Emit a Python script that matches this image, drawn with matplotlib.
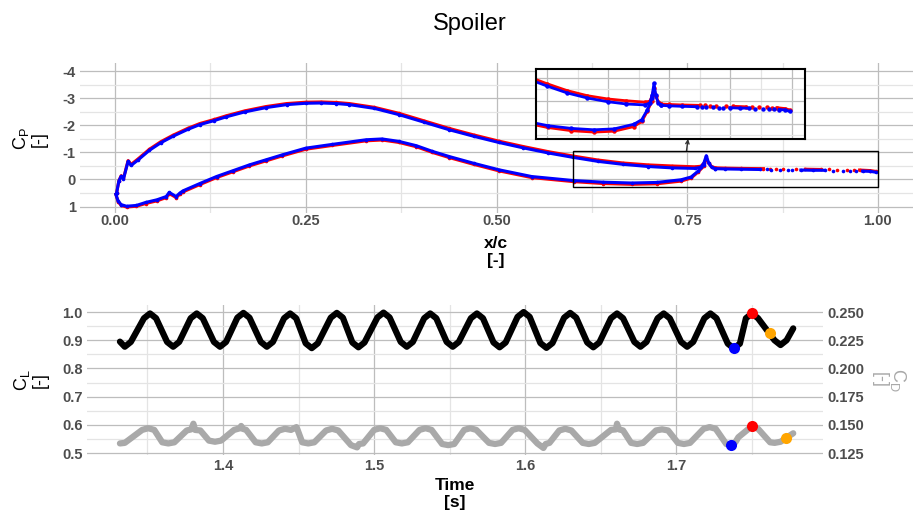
import numpy as np
import matplotlib
matplotlib.use("Agg")
import matplotlib.pyplot as plt
from matplotlib.patches import Rectangle
from matplotlib.ticker import MultipleLocator, FormatStrFormatter

plt.rcParams['font.family'] = 'Liberation Sans'
plt.rcParams['mathtext.fontset'] = 'custom'
plt.rcParams['mathtext.rm'] = 'Liberation Sans'

nan = np.nan

# --- Cp distribution (two instants: red and blue) ---
# suction side, leading edge -> spike near x/c = 0.775
x_up = [0.002, 0.005, 0.008, 0.011, 0.017, 0.021, 0.030, 0.045, 0.060, 0.076,
        0.095, 0.111, 0.130, 0.146, 0.170, 0.198, 0.225, 0.250, 0.270, 0.290,
        0.307, 0.340, 0.372, 0.405, 0.438, 0.470, 0.503, 0.535, 0.568, 0.600,
        0.633, 0.666, 0.699, 0.730, 0.760, 0.768, 0.772, 0.775, 0.778, 0.782, 0.787]
cp_up_blue = [0.50, 0.05, -0.12, -0.02, -0.67, -0.52, -0.72, -1.08, -1.36, -1.60,
              -1.85, -2.03, -2.18, -2.32, -2.50, -2.66, -2.77, -2.82, -2.83, -2.81,
              -2.77, -2.63, -2.40, -2.12, -1.84, -1.60, -1.37, -1.17, -0.98, -0.82,
              -0.67, -0.56, -0.48, -0.43, -0.41, -0.45, -0.62, -0.88, -0.62, -0.45, -0.40]
cp_up_red = [0.50, 0.04, -0.14, -0.04, -0.70, -0.56, -0.76, -1.12, -1.40, -1.64,
             -1.89, -2.07, -2.22, -2.36, -2.54, -2.70, -2.81, -2.86, -2.87, -2.85,
             -2.81, -2.67, -2.45, -2.17, -1.89, -1.65, -1.42, -1.22, -1.03, -0.87,
             -0.72, -0.61, -0.54, -0.50, -0.47, -0.49, -0.60, -0.78, -0.60, -0.48, -0.43]

# pressure side
x_lo = [0.001, 0.004, 0.008, 0.015, 0.028, 0.040, 0.055, 0.067, 0.071, 0.080,
        0.085, 0.089, 0.111, 0.133, 0.155, 0.176, 0.198, 0.219, 0.250, 0.285,
        0.329, 0.350, 0.372, 0.395, 0.416, 0.438, 0.470, 0.503, 0.546, 0.601,
        0.640, 0.677, 0.710, 0.742, 0.755, 0.764, 0.772]
cp_lo_blue = [0.55, 0.80, 0.93, 0.99, 0.96, 0.85, 0.75, 0.63, 0.48, 0.63,
              0.50, 0.42, 0.15, -0.11, -0.33, -0.54, -0.73, -0.91, -1.16, -1.30,
              -1.47, -1.50, -1.41, -1.25, -1.04, -0.85, -0.60, -0.36, -0.11, 0.04,
              0.10, 0.13, 0.11, 0.01, -0.09, -0.30, -0.55]
cp_lo_red = [0.55, 0.82, 0.96, 1.02, 0.99, 0.89, 0.79, 0.67, 0.52, 0.67,
             0.54, 0.46, 0.19, -0.07, -0.29, -0.50, -0.69, -0.87, -1.12, -1.26,
             -1.43, -1.46, -1.37, -1.21, -1.00, -0.81, -0.56, -0.32, -0.07, 0.08,
             0.15, 0.18, 0.16, 0.06, -0.05, -0.27, -0.50]

# after the spike, sparse taps up to the trailing edge (nan = gap)
x_tr_blue = [0.787, 0.800, 0.820, 0.845, nan, 0.854, nan, 0.860, nan, 0.871,
             nan, 0.882, nan, 0.888, nan, 0.899, 0.915, 0.930, nan, 0.941,
             nan, 0.954, nan, 0.963, nan, 0.971, nan, 0.980, 0.990, 0.997]
cp_tr_blue = [-0.40, -0.39, -0.38, -0.37, nan, -0.37, nan, -0.36, nan, -0.36,
              nan, -0.35, nan, -0.35, nan, -0.35, -0.34, -0.34, nan, -0.33,
              nan, -0.33, nan, -0.32, nan, -0.32, nan, -0.31, -0.30, -0.27]
x_tr_red = [0.787, 0.800, 0.820, 0.850, nan, 0.858, nan, 0.866, nan, 0.876,
            nan, 0.893, nan, 0.905, 0.925, nan, 0.936, nan, 0.947, nan,
            0.960, nan, 0.968, nan, 0.976, 0.990, 0.997]
cp_tr_red = [-0.43, -0.42, -0.41, -0.40, nan, -0.40, nan, -0.39, nan, -0.39,
             nan, -0.38, nan, -0.38, -0.37, nan, -0.37, nan, -0.36, nan,
             -0.36, nan, -0.35, nan, -0.35, -0.33, -0.30]

# --- CL / CD time history (extrema and shoulders) ---
t_cl = [1.3318, 1.3350, 1.3390,
        1.3477, 1.3517, 1.3557, 1.3630, 1.3670, 1.3710,
        1.3786, 1.3826, 1.3866, 1.3940, 1.3980, 1.4020,
        1.4095, 1.4135, 1.4175, 1.4250, 1.4290, 1.4330,
        1.4404, 1.4444, 1.4484, 1.4547, 1.4587, 1.4627,
        1.4713, 1.4753, 1.4793, 1.4856, 1.4896, 1.4936,
        1.5022, 1.5062, 1.5102, 1.5176, 1.5216, 1.5256,
        1.5331, 1.5371, 1.5411, 1.5480, 1.5520, 1.5560,
        1.5640, 1.5680, 1.5720, 1.5790, 1.5830, 1.5870,
        1.5949, 1.5989, 1.6029, 1.6100, 1.6140, 1.6180,
        1.6257, 1.6297, 1.6337, 1.6410, 1.6450, 1.6490,
        1.6567, 1.6607, 1.6647, 1.6722, 1.6762, 1.6802,
        1.6876, 1.6916, 1.6956, 1.7031, 1.7071, 1.7111,
        1.7185, 1.7225, 1.7265, 1.7340, 1.7380, 1.7420,
        1.7460, 1.7500, 1.7540, 1.7649, 1.7689, 1.7729,
        1.7773]
cl = [0.895, 0.877, 0.894,
      0.978, 0.995, 0.978, 0.894, 0.877, 0.894,
      0.978, 0.995, 0.978, 0.894, 0.877, 0.894,
      0.980, 0.997, 0.980, 0.894, 0.877, 0.894,
      0.978, 0.995, 0.978, 0.889, 0.872, 0.889,
      0.980, 0.997, 0.980, 0.892, 0.875, 0.892,
      0.981, 0.998, 0.981, 0.894, 0.877, 0.894,
      0.978, 0.995, 0.978, 0.894, 0.877, 0.894,
      0.978, 0.995, 0.978, 0.892, 0.875, 0.892,
      0.983, 1.000, 0.983, 0.890, 0.873, 0.890,
      0.980, 0.997, 0.980, 0.892, 0.875, 0.892,
      0.978, 0.995, 0.978, 0.894, 0.877, 0.894,
      0.978, 0.995, 0.978, 0.894, 0.877, 0.894,
      0.978, 0.995, 0.978, 0.888, 0.871, 0.888,
      0.978, 0.995, 0.978, 0.900, 0.883, 0.900,
      0.942]

t_cd = [1.3318, 1.3350,
        1.3465, 1.3505, 1.3545, 1.3598, 1.3638, 1.3678,
        1.3760, 1.3790, 1.3804, 1.3815, 1.3850, 1.3907, 1.3947, 1.3987,
        1.4073, 1.4113, 1.4120, 1.4130, 1.4153, 1.4216, 1.4256, 1.4296,
        1.4370, 1.4410, 1.4450, 1.4486, 1.4495, 1.4524, 1.4564, 1.4604,
        1.4682, 1.4722, 1.4762, 1.4847, 1.4887, 1.4900, 1.4927,
        1.5000, 1.5040, 1.5080, 1.5143, 1.5183, 1.5223,
        1.5300, 1.5340, 1.5380, 1.5450, 1.5490, 1.5530,
        1.5596, 1.5636, 1.5676, 1.5760, 1.5800, 1.5840,
        1.5916, 1.5956, 1.5996, 1.6080, 1.6120, 1.6135, 1.6160,
        1.6225, 1.6265, 1.6305, 1.6380, 1.6420, 1.6460,
        1.6567, 1.6600, 1.6607, 1.6620, 1.6647, 1.6700, 1.6740, 1.6780,
        1.6865, 1.6905, 1.6945, 1.7010, 1.7050, 1.7090,
        1.7180, 1.7220, 1.7260, 1.7330, 1.7358, 1.7390, 1.7410, 1.7460,
        1.7500, 1.7540, 1.7620, 1.7650, 1.7690, 1.7727, 1.7773]
cd = [0.1335, 0.1340,
      0.1455, 0.1470, 0.1455, 0.1345, 0.1335, 0.1345,
      0.1450, 0.1460, 0.1510, 0.1455, 0.1450, 0.1360, 0.1350, 0.1360,
      0.1455, 0.1470, 0.1490, 0.1465, 0.1455, 0.1345, 0.1335, 0.1345,
      0.1450, 0.1465, 0.1455, 0.1480, 0.1450, 0.1345, 0.1335, 0.1345,
      0.1450, 0.1465, 0.1450, 0.1320, 0.1300, 0.1330, 0.1335,
      0.1455, 0.1470, 0.1455, 0.1345, 0.1335, 0.1345,
      0.1455, 0.1470, 0.1455, 0.1330, 0.1320, 0.1330,
      0.1455, 0.1470, 0.1455, 0.1340, 0.1330, 0.1340,
      0.1455, 0.1470, 0.1455, 0.1335, 0.1295, 0.1330, 0.1340,
      0.1450, 0.1465, 0.1450, 0.1340, 0.1330, 0.1340,
      0.1455, 0.1460, 0.1510, 0.1460, 0.1450, 0.1340, 0.1330, 0.1340,
      0.1450, 0.1460, 0.1450, 0.1340, 0.1330, 0.1340,
      0.1465, 0.1480, 0.1465, 0.1330, 0.1320, 0.1345, 0.1390, 0.1445,
      0.1490, 0.1465, 0.1345, 0.1340, 0.1350, 0.1385, 0.1425]

# instants marked on the curves
mark_colors = ['blue', 'red', 'orange']
t_mark_cl = [1.7380, 1.7500, 1.7618]
cl_mark = [0.871, 0.995, 0.924]
t_mark_cd = [1.7358, 1.7500, 1.7727]
cd_mark = [0.132, 0.149, 0.1385]

W, H = 913, 519
fig = plt.figure(figsize=(W / 100, H / 100), dpi=100)

major_c = '#bdbdbd'
minor_c = '#e4e4e4'
tick_c = '#4d4d4d'


def style(ax):
    for s in ax.spines.values():
        s.set_visible(False)
    ax.tick_params(which='both', length=0, labelsize=10.5, labelcolor=tick_c, pad=3)
    ax.grid(True, which='major', color=major_c, lw=0.9)
    ax.grid(True, which='minor', color=minor_c, lw=0.9)
    ax.set_axisbelow(True)


def draw_cp(ax, ms, lw):
    for xs, ys, col in [(x_up, cp_up_red, 'red'), (x_lo, cp_lo_red, 'red'),
                        (x_tr_red, cp_tr_red, 'red'),
                        (x_up, cp_up_blue, 'blue'), (x_lo, cp_lo_blue, 'blue'),
                        (x_tr_blue, cp_tr_blue, 'blue')]:
        ax.plot(xs, ys, '-o', color=col, ms=ms, lw=lw, mew=0)


# top: Cp
ax1 = fig.add_axes([80 / W, 1 - 213 / H, 833 / W, 150 / H])
style(ax1)
ax1.tick_params(axis='x', pad=1)
draw_cp(ax1, 2.6, 2.2)
ax1.set_xlim(-0.046, 1.046)
ax1.set_ylim(1.24, -4.31)
ax1.xaxis.set_major_locator(MultipleLocator(0.25))
ax1.xaxis.set_minor_locator(MultipleLocator(0.125))
ax1.yaxis.set_major_locator(MultipleLocator(1))
ax1.yaxis.set_minor_locator(MultipleLocator(0.5))
ax1.xaxis.set_major_formatter(FormatStrFormatter('%.2f'))
ax1.yaxis.set_major_formatter(FormatStrFormatter('%d'))
for lbl in ax1.get_xticklabels() + ax1.get_yticklabels():
    lbl.set_fontweight('bold')

# zoom box + arrow to inset
ax1.add_patch(Rectangle((0.6, -1.04), 0.4, 1.30, fill=False, ec='black', lw=1, zorder=5))
ax1.annotate('', xy=(688 / W, 1 - 139 / H), xycoords='figure fraction',
             xytext=(0.749, -1.04), textcoords='data',
             arrowprops=dict(arrowstyle='->', color='#333333', lw=1,
                             mutation_scale=6, shrinkA=0, shrinkB=0))

# inset
axin = fig.add_axes([536 / W, 1 - 139 / H, 269 / W, 70 / H])
axin.set_facecolor('white')
axin.grid(True, which='major', color=major_c, lw=0.9)
axin.grid(True, which='minor', color=minor_c, lw=0.9)
axin.set_axisbelow(True)
draw_cp(axin, 3.2, 2.0)
axin.set_xlim(0.582, 1.022)
axin.set_ylim(0.33, -1.19)
axin.xaxis.set_major_locator(MultipleLocator(0.1))
axin.xaxis.set_minor_locator(MultipleLocator(0.05))
axin.yaxis.set_major_locator(MultipleLocator(0.5))
axin.yaxis.set_minor_locator(MultipleLocator(0.25))
axin.tick_params(which='both', length=0, labelbottom=False, labelleft=False)
for s in axin.spines.values():
    s.set_color('black')
    s.set_linewidth(1.5)

# bottom: CL and CD
ax2 = fig.add_axes([87 / W, 1 - 455 / H, 736 / W, 150 / H])
style(ax2)
ax2.plot(t_cl, cl, color='black', lw=4.5, solid_joinstyle='round', solid_capstyle='round')
ax2.set_xlim(1.31, 1.797)
ax2.set_ylim(0.493, 1.025)
ax2.xaxis.set_major_locator(MultipleLocator(0.1))
ax2.xaxis.set_minor_locator(MultipleLocator(0.05))
ax2.yaxis.set_major_locator(MultipleLocator(0.1))
ax2.yaxis.set_minor_locator(MultipleLocator(0.05))
ax2.xaxis.set_major_formatter(FormatStrFormatter('%.1f'))
ax2.yaxis.set_major_formatter(FormatStrFormatter('%.1f'))
for lbl in ax2.get_xticklabels() + ax2.get_yticklabels():
    lbl.set_fontweight('bold')

ax2r = ax2.twinx()
for s in ax2r.spines.values():
    s.set_visible(False)
ax2r.plot(t_cd, cd, color='darkgray', lw=4.5, solid_joinstyle='round', solid_capstyle='round')
ax2r.set_ylim(0.493 / 4, 1.025 / 4)
ax2r.yaxis.set_major_locator(MultipleLocator(0.025))
ax2r.yaxis.set_major_formatter(FormatStrFormatter('%.3f'))
ax2r.tick_params(length=0, labelsize=10.5, labelcolor=tick_c, pad=3)
for lbl in ax2r.get_yticklabels():
    lbl.set_fontweight('bold')

for t, v, c in zip(t_mark_cl, cl_mark, mark_colors):
    ax2r.plot(t, v / 4, 'o', color=c, ms=8, mew=0, zorder=6)
for t, v, c in zip(t_mark_cd, cd_mark, mark_colors):
    ax2r.plot(t, v, 'o', color=c, ms=8, mew=0, zorder=6)

# texts
fig.text(470 / W, 1 - 24 / H, 'Spoiler', fontsize=17, ha='center', va='center')
fig.text(496 / W, 1 - 252 / H, 'x/c\n[-]', fontsize=12.5, fontweight='bold',
         ha='center', va='center', linespacing=1.15)
fig.text(455 / W, 1 - 494 / H, 'Time\n[s]', fontsize=12.5, fontweight='bold',
         ha='center', va='center', linespacing=1.15)
fig.text(29 / W, 1 - 139 / H, 'C$_\\mathrm{P}$\n[-]', fontsize=13, rotation=90,
         ha='center', va='center', linespacing=1.0)
fig.text(30 / W, 1 - 380 / H, 'C$_\\mathrm{L}$\n[-]', fontsize=13, rotation=90,
         ha='center', va='center', linespacing=1.0)
fig.text(889 / W, 1 - 380 / H, 'C$_\\mathrm{D}$\n[-]', fontsize=13, rotation=270,
         ha='center', va='center', linespacing=1.0, color='darkgray')

fig.savefig('out.png', dpi=100)
